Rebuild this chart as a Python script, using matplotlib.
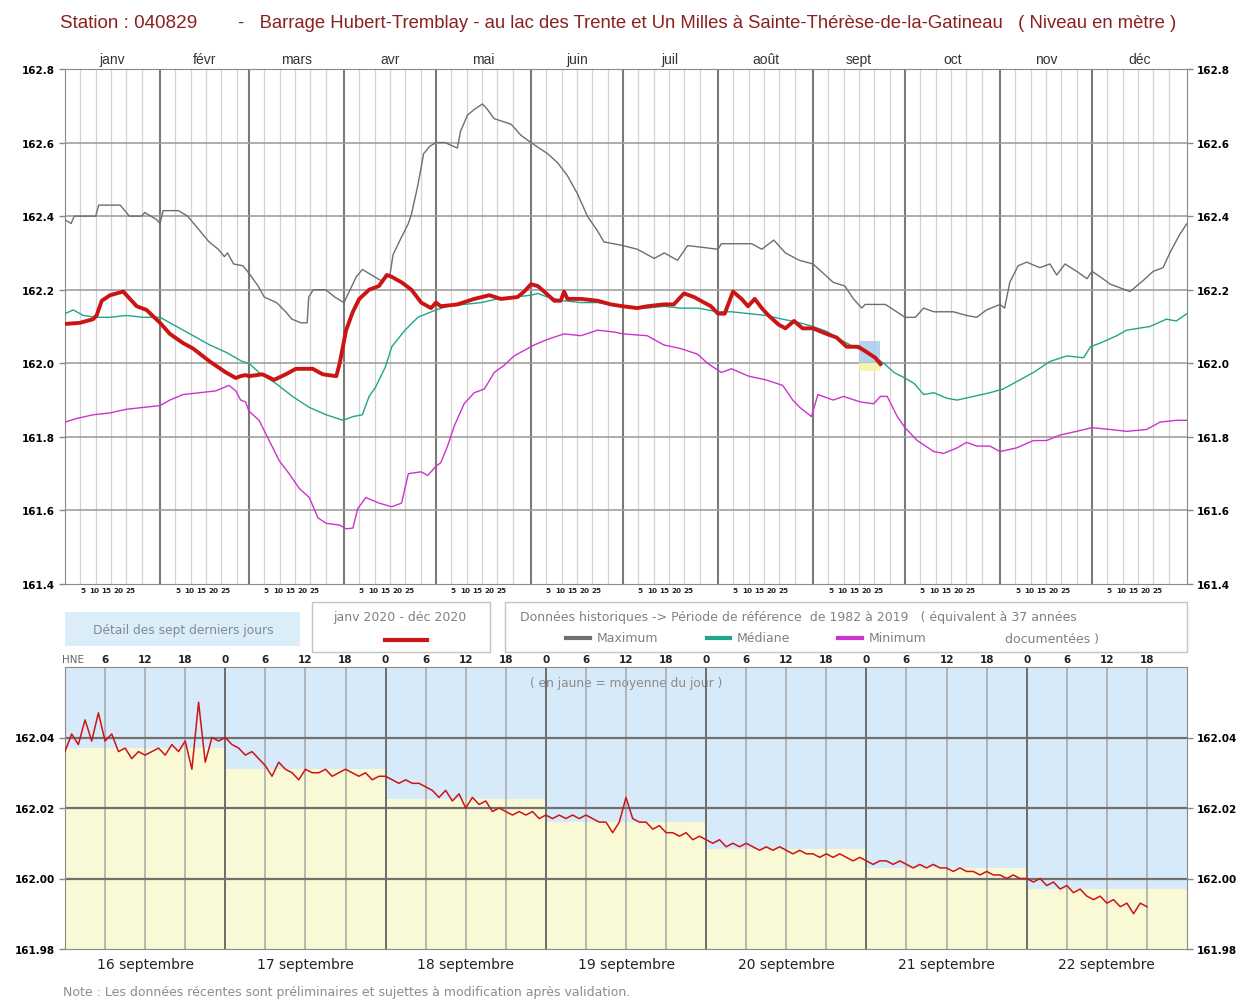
import numpy as np
import matplotlib
matplotlib.use("Agg")
import matplotlib.pyplot as plt
from matplotlib.patches import Rectangle
from matplotlib.lines import Line2D

# ---- data: annual chart (day of year 2020, level in m) ----
months = ["janv", "févr", "mars", "avr", "mai", "juin", "juil", "août",
          "sept", "oct", "nov", "déc"]
month_len = [31, 29, 31, 30, 31, 30, 31, 31, 30, 31, 30, 31]

max_days = [0, 2, 3, 10, 11, 18, 21, 25, 26, 30, 31, 32, 37, 40, 42, 44, 47, 50, 52, 53,
            55, 58, 60, 63, 65, 69, 72, 74, 77, 79, 79.5, 81, 85, 88, 90, 91, 93, 95, 97,
            99, 103, 106, 107, 109, 112, 113, 115, 117, 119, 121, 124, 128, 129, 131.3,
            133.5, 136.2, 137.8, 140, 145.5, 148.7, 152, 157.4, 160.7, 163.9, 167.2, 170.4,
            173.7, 175.8, 182, 186.7, 192.2, 195.5, 199.8, 203.1, 213, 214.1, 224, 227.3,
            231.2, 235, 239.5, 244, 247.3, 250.6, 254.4, 257.2, 259.9, 261, 267.6, 270.4,
            274, 277.4, 280.1, 283.4, 286.6, 289.8, 294.1, 297.4, 300.6, 305, 306.5, 308.2,
            310.9, 313.7, 318, 321.3, 323.5, 326.2, 330, 333.4, 335, 337.7, 341, 344.2,
            347.4, 351.7, 355, 358.2, 360.4, 363.6, 366]
max_vals = [162.39, 162.38, 162.40, 162.40, 162.43, 162.43, 162.40, 162.40, 162.41, 162.39,
            162.38, 162.415, 162.415, 162.40, 162.38, 162.36, 162.33, 162.31, 162.29, 162.30,
            162.27, 162.265, 162.245, 162.21, 162.18, 162.165, 162.14, 162.12, 162.11, 162.11,
            162.18, 162.20, 162.20, 162.18, 162.17, 162.165, 162.20, 162.235, 162.255,
            162.245, 162.225, 162.24, 162.295, 162.33, 162.38, 162.405, 162.48, 162.57,
            162.59, 162.60, 162.60, 162.585, 162.63, 162.675, 162.69, 162.705, 162.69,
            162.665, 162.65, 162.62, 162.60, 162.57, 162.545, 162.51, 162.46, 162.40, 162.36,
            162.33, 162.32, 162.31, 162.285, 162.30, 162.28, 162.32, 162.31, 162.325,
            162.325, 162.31, 162.335, 162.30, 162.28, 162.27, 162.245, 162.22, 162.21,
            162.175, 162.15, 162.16, 162.16, 162.145, 162.125, 162.125, 162.15, 162.14,
            162.14, 162.14, 162.13, 162.125, 162.145, 162.16, 162.15, 162.22, 162.265,
            162.275, 162.26, 162.27, 162.24, 162.27, 162.25, 162.23, 162.25, 162.235,
            162.215, 162.205, 162.195, 162.225, 162.25, 162.26, 162.30, 162.35, 162.38]

med_days = [0, 2.7, 6, 10.3, 14.7, 20, 25.5, 31, 36.4, 41.8, 47.2, 52.5, 57.8, 60, 63.3,
            68.8, 74.2, 79.7, 85.2, 90.7, 93.9, 97, 99.2, 101.3, 104.5, 106.6, 110.9, 115.1,
            121, 124.8, 130.2, 135.7, 141.1, 146.5, 152, 154.2, 157.4, 162.8, 168.3, 173.7,
            182, 189.9, 195.3, 200.8, 206.3, 213, 217.4, 223, 228.6, 234.1, 239.7, 244,
            248.4, 252.8, 257.2, 261.6, 267.1, 270.4, 274, 277, 280.1, 283.4, 287.7, 291,
            296.4, 301.7, 306, 310.4, 315.9, 321.3, 326.8, 332.3, 334.5, 337.7, 343.1, 346.3,
            353.9, 359.3, 362.5, 366]
med_vals = [162.135, 162.145, 162.13, 162.125, 162.125, 162.13, 162.125, 162.125, 162.10,
            162.075, 162.05, 162.03, 162.005, 162.0, 161.975, 161.945, 161.91, 161.88,
            161.86, 161.845, 161.855, 161.86, 161.91, 161.935, 161.99, 162.045, 162.09,
            162.125, 162.145, 162.155, 162.16, 162.165, 162.175, 162.18, 162.185, 162.19,
            162.18, 162.17, 162.165, 162.165, 162.155, 162.15, 162.155, 162.15, 162.15,
            162.14, 162.14, 162.135, 162.13, 162.12, 162.11, 162.10, 162.087, 162.065,
            162.045, 162.03, 162.0, 161.975, 161.96, 161.945, 161.915, 161.92, 161.905,
            161.90, 161.91, 161.92, 161.93, 161.95, 161.975, 162.005, 162.02, 162.015,
            162.045, 162.055, 162.075, 162.09, 162.10, 162.12, 162.115, 162.135]

min_days = [0, 3.8, 9.2, 14.7, 20, 25.5, 31, 34.2, 38.5, 43.9, 49.2, 53.5, 55.7, 57.3, 58.9,
            60, 63.3, 66.6, 69.9, 73.1, 76.4, 79.7, 82.5, 85.2, 89.6, 91.7, 93.9, 95.5, 98.1,
            102.4, 106.6, 109.8, 112, 116.2, 118.3, 121, 122.6, 124.8, 127, 130.2, 133.5,
            136.8, 140, 143.3, 146.5, 149.8, 153.1, 157.4, 162.8, 168.3, 173.7, 179.1, 182,
            189.9, 195.3, 200.8, 206.3, 209.6, 214.1, 217.4, 223, 228.6, 234.1, 237.4, 239.7,
            243.5, 245.6, 250.6, 253.9, 259.4, 263.8, 266, 268.2, 271.5, 274, 278, 283.4,
            286.6, 291, 294.1, 297.4, 301.7, 305, 310.4, 315.9, 320.2, 324.6, 330, 335, 341,
            346.3, 352.8, 357.2, 362.5, 366]
min_vals = [161.84, 161.85, 161.86, 161.865, 161.875, 161.88, 161.885, 161.90, 161.915,
            161.92, 161.925, 161.94, 161.925, 161.90, 161.895, 161.87, 161.845, 161.79,
            161.735, 161.70, 161.66, 161.635, 161.58, 161.565, 161.56, 161.55, 161.552,
            161.605, 161.635, 161.62, 161.61, 161.62, 161.70, 161.705, 161.695, 161.72,
            161.73, 161.775, 161.83, 161.89, 161.92, 161.93, 161.975, 161.995, 162.02,
            162.035, 162.05, 162.065, 162.08, 162.075, 162.09, 162.085, 162.08, 162.075,
            162.05, 162.04, 162.025, 162.0, 161.975, 161.985, 161.965, 161.955, 161.94,
            161.90, 161.88, 161.855, 161.915, 161.90, 161.91, 161.895, 161.89, 161.91,
            161.91, 161.855, 161.825, 161.79, 161.76, 161.755, 161.77, 161.785, 161.775,
            161.775, 161.76, 161.77, 161.79, 161.79, 161.805, 161.815, 161.825, 161.82,
            161.815, 161.82, 161.84, 161.845, 161.845]

y2020_days = [0, 4.9, 9.2, 10.3, 12, 14.7, 19, 20.1, 23.4, 26.6, 31, 34.2, 38.5, 41.8, 47.2,
              52.5, 55.7, 57.3, 58.9, 60, 64.4, 68.2, 72, 75.3, 80.8, 84.1, 88.5, 89.6, 91.7,
              93.9, 96, 99.2, 102.4, 105, 106.6, 109.8, 113, 116.2, 119.4, 121, 122.6, 128,
              133.5, 138.4, 142.2, 147.6, 149.8, 152, 154.2, 156.3, 159.6, 161.7, 162.8,
              163.9, 168.3, 173.7, 178.1, 182, 186.7, 189.9, 195.3, 198.6, 201.9, 205.2,
              208.5, 210.7, 213, 215.2, 217.9, 220.7, 222.8, 225, 227.3, 229.5, 232.8, 235,
              237.8, 240.6, 244, 248.4, 251.7, 255, 258.8, 261.6, 264.3, 266]
y2020_vals = [162.107, 162.11, 162.12, 162.13, 162.17, 162.185, 162.195, 162.185, 162.155,
              162.145, 162.11, 162.08, 162.055, 162.04, 162.005, 161.975, 161.96, 161.965,
              161.968, 161.965, 161.97, 161.955, 161.97, 161.985, 161.985, 161.97, 161.965,
              162.0, 162.09, 162.14, 162.175, 162.20, 162.21, 162.24, 162.235, 162.22,
              162.20, 162.165, 162.15, 162.165, 162.155, 162.16, 162.175, 162.185, 162.175,
              162.18, 162.195, 162.215, 162.21, 162.195, 162.17, 162.17, 162.195, 162.175,
              162.175, 162.17, 162.16, 162.155, 162.15, 162.155, 162.16, 162.16, 162.19,
              162.18, 162.165, 162.155, 162.135, 162.135, 162.195, 162.175, 162.155,
              162.175, 162.15, 162.13, 162.105, 162.095, 162.115, 162.095, 162.095, 162.08,
              162.07, 162.045, 162.045, 162.03, 162.015, 161.998]

# ---- data: last seven days, hourly from 16 sept 00h ----
day_labels = ["16 septembre", "17 septembre", "18 septembre", "19 septembre",
              "20 septembre", "21 septembre", "22 septembre"]
hourly = [162.036, 162.041, 162.038, 162.045, 162.039, 162.047, 162.039, 162.041, 162.036,
          162.037, 162.034, 162.036, 162.035, 162.036, 162.037, 162.035, 162.038, 162.036,
          162.039, 162.031, 162.050, 162.033, 162.040, 162.039,
          162.040, 162.038, 162.037, 162.035, 162.036, 162.034, 162.032, 162.029, 162.033,
          162.031, 162.030, 162.028, 162.031, 162.030, 162.030, 162.031, 162.029, 162.030,
          162.031, 162.030, 162.029, 162.030, 162.028, 162.029,
          162.029, 162.028, 162.027, 162.028, 162.027, 162.027, 162.026, 162.025, 162.023,
          162.025, 162.022, 162.024, 162.020, 162.023, 162.021, 162.022, 162.019, 162.020,
          162.019, 162.018, 162.019, 162.018, 162.019, 162.017,
          162.018, 162.017, 162.018, 162.017, 162.018, 162.017, 162.018, 162.017, 162.016,
          162.016, 162.013, 162.016, 162.023, 162.017, 162.016, 162.016, 162.014, 162.015,
          162.013, 162.013, 162.012, 162.013, 162.011, 162.012,
          162.011, 162.010, 162.011, 162.009, 162.010, 162.009, 162.010, 162.009, 162.008,
          162.009, 162.008, 162.009, 162.008, 162.007, 162.008, 162.007, 162.007, 162.006,
          162.007, 162.006, 162.007, 162.006, 162.005, 162.006,
          162.005, 162.004, 162.005, 162.005, 162.004, 162.005, 162.004, 162.003, 162.004,
          162.003, 162.004, 162.003, 162.003, 162.002, 162.003, 162.002, 162.002, 162.001,
          162.002, 162.001, 162.001, 162.000, 162.001, 162.000,
          162.000, 161.999, 162.000, 161.998, 161.999, 161.997, 161.998, 161.996, 161.997,
          161.995, 161.994, 161.995, 161.993, 161.994, 161.992, 161.993, 161.990, 161.993,
          161.992]
daily_mean = [162.037, 162.031, 162.0226, 162.016, 162.0085, 162.003, 161.997]

# ---- figure layout in pixels ----
W, H = 1241, 1003
fig = plt.figure(figsize=(W / 100, H / 100), dpi=100)
plt.rcParams["font.family"] = ["DejaVu Sans"]
NARROW = ["Liberation Sans", "DejaVu Sans"]


def fx(x):
    return x / W


def fy(y):
    return 1 - y / H


c_title = "#8a2020"
c_txt = "#808080"
c_max, c_med, c_min, c_red = "#6e6e6e", "#1fa58c", "#cc33cc", "#cc1414"

fig.text(fx(60), fy(23), "Station : 040829", family=NARROW, fontsize=13.6,
         color=c_title, va="center", ha="left")
fig.text(fx(238), fy(23),
         "-   Barrage Hubert-Tremblay - au lac des Trente et Un Milles à Sainte-Thérèse-de-la-Gatineau   ( Niveau en mètre )",
         family=NARROW, fontsize=13.3, color=c_title, va="center", ha="left")

# ---- annual chart ----
ax1 = fig.add_axes([fx(65), fy(585), fx(1187) - fx(65), fy(70) - fy(585)])
mstart = np.concatenate([[0], np.cumsum(month_len)])
for i in range(12):
    for k in (5, 10, 15, 20, 25):
        ax1.axvline(mstart[i] + k, color="#d2d2d2", lw=0.9, zorder=0)
for s in mstart[1:-1]:
    ax1.axvline(s, color="#7a7a7a", lw=1.5, zorder=1)
for v in np.arange(161.6, 162.7, 0.2):
    ax1.axhline(v, color="#a0a0a0", lw=1.2, zorder=1)

ax1.plot(max_days, max_vals, color=c_max, lw=1, zorder=3)
ax1.plot(med_days, med_vals, color=c_med, lw=1, zorder=3)
ax1.plot(min_days, min_vals, color=c_min, lw=1, zorder=3)

# marker of the last seven days
d0 = mstart[8] + 15
ax1.add_patch(Rectangle((d0, 162.0), 7, 0.06, facecolor="#a8cbef", alpha=0.85,
                        edgecolor="none", zorder=2))
ax1.add_patch(Rectangle((d0, 161.978), 7, 0.022, facecolor="#f6f3a8", alpha=0.9,
                        edgecolor="none", zorder=2))
ax1.plot(y2020_days, y2020_vals, color=c_red, lw=2.8, zorder=4, solid_joinstyle="round")

ax1.set_xlim(0, 366)
ax1.set_ylim(161.4, 162.8)
ax1.set_yticks(np.arange(161.4, 162.81, 0.2))
ax1.set_yticklabels(["%.1f" % v for v in np.arange(161.4, 162.81, 0.2)])
ax1.set_xticks([])
ax1.tick_params(axis="y", left=True, right=True, labelleft=True, labelright=True,
                length=4, width=1, color="#888888", labelsize=7.5, pad=3)
for lab in ax1.get_yticklabels():
    lab.set_fontweight("bold")
for sp in ax1.spines.values():
    sp.set_color("#8a8a8a")

for i, m in enumerate(months):
    ax1.text(mstart[i] + month_len[i] / 2, 1.006, m, transform=ax1.get_xaxis_transform(),
             ha="center", va="bottom", fontsize=10, color="#333333", family=NARROW)
    for j, k in enumerate(("5", "10", "15", "20", "25")):
        ax1.text(mstart[i] + 5.7 + 3.9 * j, -0.012, k, transform=ax1.get_xaxis_transform(),
                 ha="center", va="center", fontsize=5.2, fontweight="bold", color="#222222")

# ---- legend area ----
fig.patches.append(Rectangle((fx(65), fy(647)), fx(300) - fx(65), fy(613) - fy(647),
                             transform=fig.transFigure, facecolor="#dcedfa",
                             edgecolor="none"))
fig.text(fx(183), fy(631), "Détail des sept derniers jours", ha="center", va="center",
         fontsize=8.8, color="#7d8a96")
for x0, x1 in ((312, 490), (505, 1187)):
    fig.patches.append(Rectangle((fx(x0), fy(653)), fx(x1) - fx(x0), fy(603) - fy(653),
                                 transform=fig.transFigure, facecolor="white",
                                 edgecolor="#c4c4c4", lw=1))
fig.text(fx(400), fy(618), "janv 2020 - déc 2020", ha="center", va="center",
         fontsize=9, color=c_txt)
fig.lines.append(Line2D([fx(385), fx(427)], [fy(641), fy(641)], transform=fig.transFigure,
                        color=c_red, lw=3))
fig.text(fx(520), fy(618),
         "Données historiques -> Période de référence  de 1982 à 2019   ( équivalent à 37 années",
         ha="left", va="center", fontsize=9, color=c_txt)
for (x0, x1), col, lab in zip(((566, 590), (707, 730), (838, 862)), (c_max, c_med, c_min),
                              ("Maximum", "Médiane", "Minimum")):
    fig.lines.append(Line2D([fx(x0), fx(x1)], [fy(639), fy(639)], transform=fig.transFigure,
                            color=col, lw=3))
    fig.text(fx(x1 + 7), fy(639), lab, ha="left", va="center", fontsize=9, color=c_txt)
fig.text(fx(1005), fy(639), "documentées )", ha="left", va="center", fontsize=9, color=c_txt)

# ---- last seven days chart ----
ax2 = fig.add_axes([fx(65), fy(950), fx(1187) - fx(65), fy(668) - fy(950)])
ax2.set_facecolor("#d7eafa")
for i, m in enumerate(daily_mean):
    ax2.fill_between([24 * i, 24 * i + 24], 161.98, m, color="#f9f9d6", lw=0, zorder=0)
for h in range(6, 168, 6):
    if h % 24 == 0:
        ax2.axvline(h, color="#6c6c6c", lw=1.4, zorder=2)
    else:
        ax2.axvline(h, color="#a6a6a6", lw=1.1, zorder=2)
for v in (162.0, 162.02, 162.04):
    ax2.axhline(v, color="#707070", lw=1.6, zorder=2)
ax2.text(84, 162.0557, "( en jaune = moyenne du jour )", ha="center", va="center",
         fontsize=8.8, color="#8a8a8a", zorder=1)
ax2.plot(np.arange(len(hourly)), hourly, color=c_red, lw=1.1, zorder=4)

ax2.set_xlim(0, 168)
ax2.set_ylim(161.98, 162.06)
ax2.set_xticks([])
ax2.set_yticks([161.98, 162.0, 162.02, 162.04])
ax2.set_yticklabels(["161.98", "162.00", "162.02", "162.04"])
ax2.tick_params(axis="y", left=True, right=True, labelleft=True, labelright=True,
                length=4, width=1, color="#888888", labelsize=7.5, pad=3)
for lab in ax2.get_yticklabels():
    lab.set_fontweight("bold")
for sp in ax2.spines.values():
    sp.set_color("#8a8a8a")

for h in range(0, 168, 6):
    if h == 0:
        ax2.text(-0.5, 1.028, "HNE", transform=ax2.get_xaxis_transform(), ha="left",
                 va="center", fontsize=7.5, color="#666666")
    else:
        ax2.text(h, 1.028, str(h % 24), transform=ax2.get_xaxis_transform(), ha="center",
                 va="center", fontsize=7.5, fontweight="bold", color="#222222")
for i, lab in enumerate(day_labels):
    ax2.text(24 * i + 12, -0.053, lab, transform=ax2.get_xaxis_transform(), ha="center",
             va="center", fontsize=10, color="#222222")

fig.text(fx(63), fy(993),
         "Note : Les données récentes sont préliminaires et sujettes à modification après validation.",
         ha="left", va="center", fontsize=9, color="#8c8c8c")

fig.savefig("out.png", dpi=100, facecolor="white")
